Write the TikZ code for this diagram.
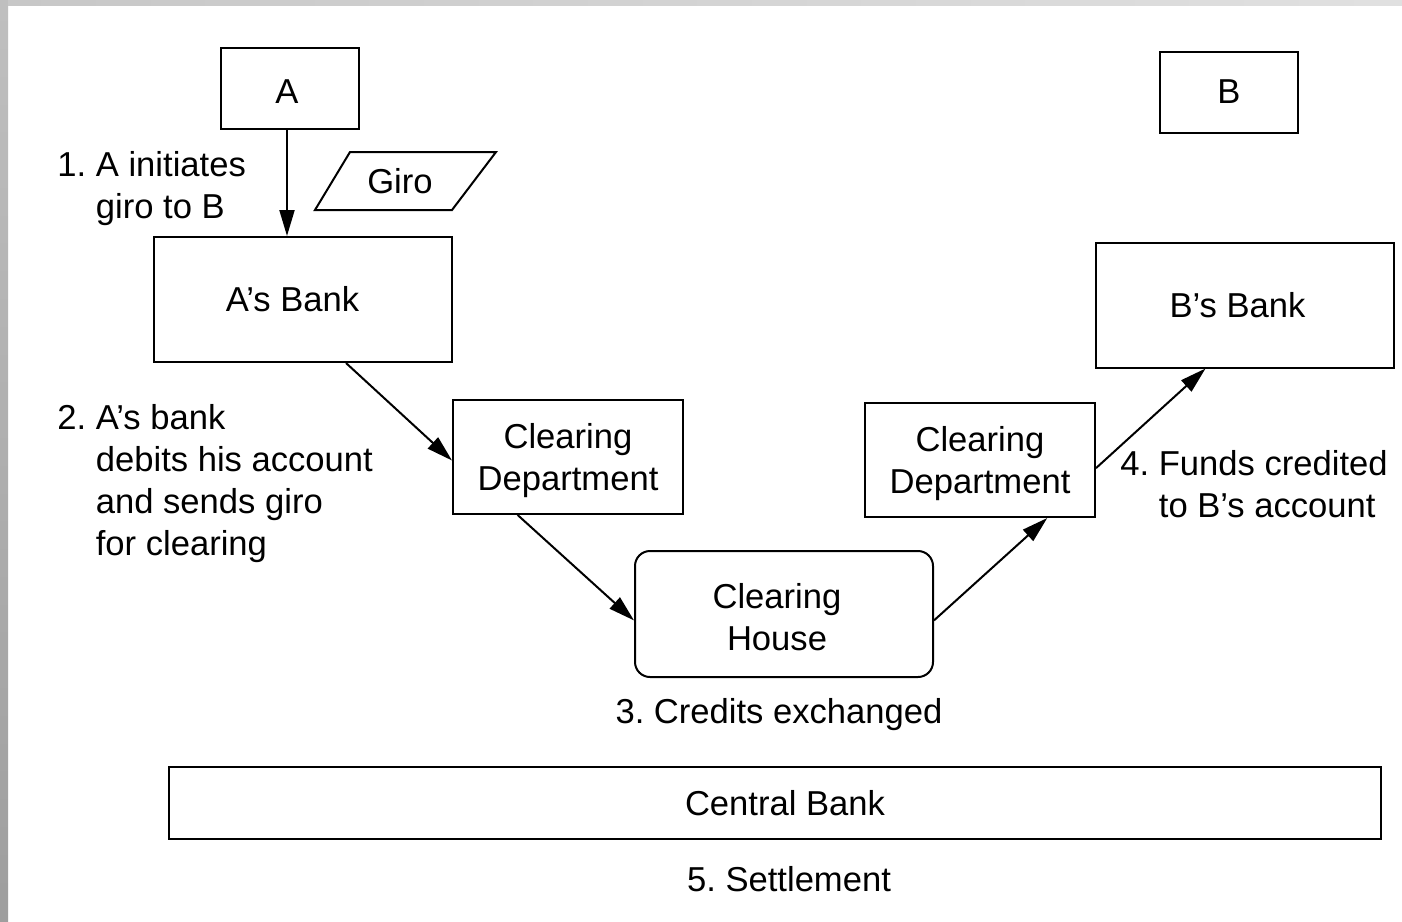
\documentclass[tikz,border=0pt]{standalone}
\usepackage{fontspec}
\setmainfont{Liberation Sans}
\usetikzlibrary{arrows.meta,calc}
\frenchspacing
\begin{document}
\begin{tikzpicture}[x=0.5pt,y=-0.5pt,
  every node/.style={font=\fontsize{17.3}{21}\selectfont, inner sep=0pt},
  box/.style={draw, line width=1pt},
  smallbox/.style={box, minimum width=69pt, minimum height=40.5pt},
  bankbox/.style={box, minimum width=149pt, minimum height=62.5pt},
  deptbox/.style={box, minimum width=115pt, minimum height=57pt},
  arr/.style={line width=1pt, -{Triangle[length=13pt,width=7.5pt]}},
  note/.style={align=left, anchor=west}]
\useasboundingbox (0,0) rectangle (1402,921);
\fill[white] (0,0) rectangle (1402,921);
\shade[top color=black!25, bottom color=black!38] (0,0) rectangle (8,921);
\shade[left color=black!22, right color=black!12] (8,0) rectangle (1402,5);

\node[smallbox, label={[xshift=-1.5pt,yshift=-2pt]center:A}] (a) at (290,88) {};
\node[smallbox] (b) at (1229,92) {B};
\node (giro) at (400,181) {Giro};
\draw[line width=1pt] ($(giro)+(-85,29)$) -- ($(giro)+(-50,-29)$) -- ($(giro)+(96,-29)$) -- ($(giro)+(52,29)$) -- cycle;
\node[bankbox] (abank) at (302.5,299.5) {\hspace*{-10pt}A’s Bank};
\node[bankbox] (bbank) at (1244.5,305) {\hspace*{-7pt}B’s Bank};
\node[deptbox, label={[align=center,yshift=-2pt]center:{Clearing\\Department}}] (cdl) at (568,457) {};
\node[deptbox, label={[align=center,yshift=-2pt]center:{Clearing\\Department}}] (cdr) at (980,460) {};
\node[box, rounded corners=7.5pt, minimum width=149pt, minimum height=63pt,
  label={[align=center,xshift=-3.5pt,yshift=-1.5pt]center:{Clearing\\House}}] (ch) at (784,614) {};
\node[box, minimum width=606pt, minimum height=36pt] (cb) at (775,803) {\hspace*{10pt}Central Bank};

\node[note] (n1) at (57,189) {1. A initiates\\\hphantom{1.\ }giro to B};
\node[note] (n2) at (57,484) {2. A’s bank\\\hphantom{2.\ }debits his account\\\hphantom{2.\ }and sends giro\\\hphantom{2.\ }for clearing};
\node[note] (n4) at (1120,484) {4. Funds credited\\\hphantom{4.\ }to B’s account};
\node (n3) at (779,715) {3. Credits exchanged};
\node (n5) at (789,879) {5. Settlement};

\coordinate (atop) at ($(a.south)+(-3,0)$);
\draw[arr] (atop) -- (atop |- abank.north);
\draw[arr] ($(abank.south west)!0.645!(abank.south east)$) -- ($(cdl.north west)!0.53!(cdl.south west)$);
\draw[arr] ($(cdl.south west)!0.283!(cdl.south east)$) -- ($(ch.north west)!0.55!(ch.south west)$);
\draw[arr] ($(ch.north east)!0.55!(ch.south east)$) -- ($(cdr.south west)!0.79!(cdr.south east)$);
\draw[arr] ($(cdr.north east)!0.57!(cdr.south east)$) -- ($(bbank.south west)!0.37!(bbank.south east)$);
\end{tikzpicture}
\end{document}
